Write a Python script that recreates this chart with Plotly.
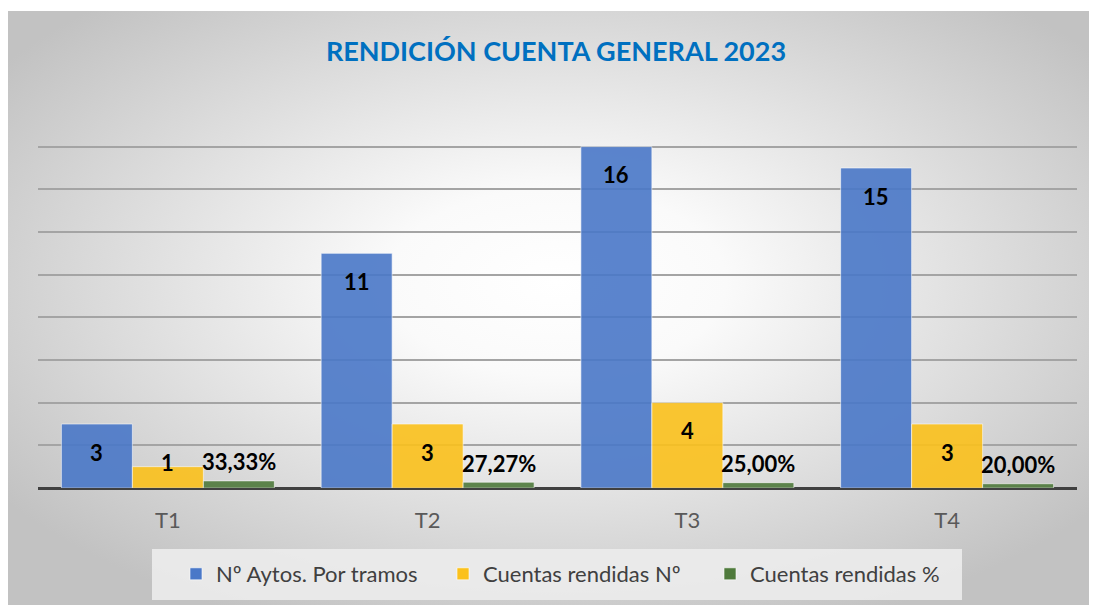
import base64
import plotly.graph_objects as go

categories = ["T1", "T2", "T3", "T4"]
aytos = [3, 11, 16, 15]
rendidas = [1, 3, 4, 3]
pct = [0.3333, 0.2727, 0.25, 0.20]

names = ["Nº Aytos. Por tramos", "Cuentas rendidas Nº", "Cuentas rendidas %"]
colors = ["#4a78c8", "#fbc11c", "#4f7a3c"]

# the page body has an 8px margin; figure coordinates are offset by it
OFF = 8
W, H = 1097, 605
ML, MT = 38 - OFF, 104 - OFF
MR = W - (1077 - OFF)
MB = H - (488 - OFF)
YMAX = 18
plot_w = W - ML - MR
plot_h = H - MT - MB
ppu = plot_h / YMAX
BARGAP = 0.18
bar_w = plot_w / len(categories) * (1 - BARGAP) / 3

FONT = "Lato"


def px_x(sx):  # screen x -> paper fraction
    return (sx - OFF - ML) / plot_w


def px_y(sy):  # screen y -> paper fraction
    return (488 - sy) / plot_h


fig = go.Figure()
for vals, name, col in zip([aytos, rendidas, pct], names, colors):
    fig.add_trace(go.Bar(
        x=categories, y=vals, name=name,
        marker=dict(color=col, opacity=0.9, line=dict(color="rgba(255,255,255,0.6)", width=1)),
        hoverinfo="skip",
    ))

annotations = []
for i, series in enumerate([aytos, rendidas]):
    for c, v in zip(categories, series):
        inside = v * ppu > 45
        annotations.append(dict(
            x=c, y=v, xref="x", yref="y", text=f"<b>{v}</b>", showarrow=False,
            xshift=(i - 1) * bar_w, yshift=-28 if inside else 4, yanchor="middle",
            font=dict(family=FONT, size=22, color="#000000"),
        ))
for c, v in zip(categories, pct):
    txt = f"{v*100:.2f}".replace(".", ",") + "%"
    annotations.append(dict(
        x=c, y=v, xref="x", yref="y", text=f"<b>{txt}</b>", showarrow=False,
        xshift=bar_w, yshift=19, yanchor="middle",
        font=dict(family=FONT, size=22, color="#000000"),
    ))

# background radial gradient (chart area)
svg = (
    '<svg xmlns="http://www.w3.org/2000/svg" width="1100" height="600" preserveAspectRatio="none">'
    '<defs><radialGradient id="g" cx="50%" cy="45%" r="62%">'
    '<stop offset="0" stop-color="#ffffff"/><stop offset="0.25" stop-color="#fafafa"/>'
    '<stop offset="1" stop-color="#c2c2c2"/></radialGradient></defs>'
    '<rect width="1100" height="600" fill="url(#g)"/></svg>'
)
uri = "data:image/svg+xml;base64," + base64.b64encode(svg.encode()).decode()
img_left, img_top = 7 - OFF, 11 - OFF
images = [dict(
    source=uri, xref="paper", yref="paper",
    x=(img_left - ML) / plot_w, y=(H - MB - img_top) / plot_h,
    sizex=(W - img_left) / plot_w, sizey=(H - img_top) / plot_h,
    xanchor="left", yanchor="top", sizing="stretch", layer="below",
)]

shapes = [dict(
    type="rect", xref="paper", yref="paper", layer="below",
    x0=px_x(152), x1=px_x(962), y0=px_y(549), y1=px_y(600),
    fillcolor="rgba(236,236,236,0.9)", line=dict(width=0),
)]

fig.update_layout(
    width=W, height=H,
    margin=dict(l=ML, r=MR, t=MT, b=MB, pad=0),
    paper_bgcolor="#ffffff", plot_bgcolor="rgba(0,0,0,0)",
    barmode="group", bargap=BARGAP, bargroupgap=0,
    title=dict(text="<b>RENDICIÓN CUENTA GENERAL 2023</b>", x=(556 - OFF) / W, xanchor="center",
               y=1 - (52 - OFF) / H, yanchor="middle",
               font=dict(family=FONT, size=27, color="#0070c0")),
    xaxis=dict(showgrid=False, showline=False, ticks="", zeroline=False,
               tickfont=dict(family=FONT, size=22, color="#595959"), ticklabelstandoff=17),
    yaxis=dict(range=[0, YMAX], dtick=2, showticklabels=False, ticks="",
               gridcolor="#a4a4a4", gridwidth=1.6, zeroline=True, zerolinecolor="#404040",
               zerolinewidth=3, showline=False),
    legend=dict(orientation="h", x=px_x(176), xanchor="left",
                y=px_y(574), yanchor="middle",
                bgcolor="rgba(0,0,0,0)", font=dict(family=FONT, size=22, color="#404040"),
                entrywidth=222, entrywidthmode="pixels", traceorder="normal"),
    annotations=annotations,
    shapes=shapes,
    images=images,
    showlegend=True,
)

fig.write_html("out.html")
